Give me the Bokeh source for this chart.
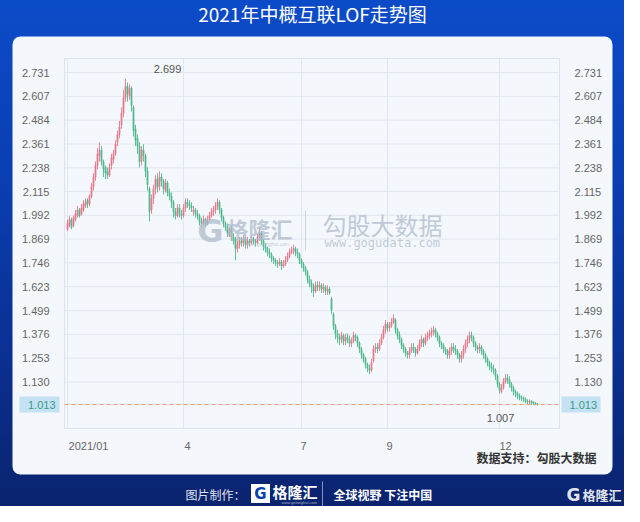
import numpy as np
from bokeh.plotting import figure
from bokeh.models import (Range1d, FixedTicker, LinearAxis, Label, ColumnDataSource,
                          PrintfTickFormatter, BoxAnnotation)
from bokeh.layouts import column
from bokeh.embed import file_html
from bokeh.resources import INLINE

CJK = "Noto Sans CJK SC"
NUM = "Liberation Sans"

title_text = "2021年中概互联LOF走势图"
source_note = "数据支持：勾股大数据"

# ---- daily candles (trading-day order, 2021) ----
open_ = [
    1.92, 1.94, 1.97, 1.94, 1.97, 1.99, 2.02, 2.00, 2.02, 2.04,
    2.07, 2.05, 2.09, 2.14, 2.19, 2.25, 2.30, 2.33, 2.27, 2.24,
    2.22, 2.20, 2.25, 2.28, 2.31, 2.37, 2.41, 2.46, 2.52, 2.60,
    2.66, 2.61, 2.65, 2.55, 2.44, 2.39, 2.35, 2.27, 2.33, 2.30,
    2.22, 2.13, 2.02, 2.08, 2.13, 2.18, 2.14, 2.19, 2.17, 2.12,
    2.16, 2.11, 2.09, 2.06, 2.01, 1.99, 2.03, 2.00, 1.99, 2.03,
    2.06, 2.05, 2.04, 2.01, 2.02, 2.00, 1.99, 1.96, 1.95, 1.97,
    1.95, 1.97, 1.99, 2.01, 2.02, 2.04, 2.06, 2.02, 1.98, 1.95,
    1.93, 1.90, 1.92, 1.88, 1.87, 1.82, 1.84, 1.86, 1.85, 1.87,
    1.84, 1.86, 1.85, 1.87, 1.86, 1.85, 1.88, 1.90, 1.86, 1.83,
    1.82, 1.80, 1.79, 1.77, 1.76, 1.75, 1.74, 1.75, 1.73, 1.74,
    1.76, 1.78, 1.80, 1.81, 1.82, 1.80, 1.79, 1.76, 1.74, 1.72,
    1.70, 1.66, 1.64, 1.62, 1.60, 1.63, 1.62, 1.63, 1.61, 1.62,
    1.60, 1.61, 1.56, 1.48, 1.42, 1.38, 1.36, 1.35, 1.37, 1.34,
    1.36, 1.35, 1.33, 1.34, 1.37, 1.36, 1.33, 1.30, 1.27, 1.25,
    1.22, 1.20, 1.19, 1.24, 1.30, 1.31, 1.30, 1.33, 1.36, 1.40,
    1.43, 1.41, 1.42, 1.44, 1.45, 1.40, 1.37, 1.35, 1.32, 1.30,
    1.28, 1.27, 1.29, 1.31, 1.30, 1.28, 1.30, 1.33, 1.35, 1.33,
    1.36, 1.37, 1.38, 1.39, 1.40, 1.38, 1.36, 1.33, 1.32, 1.30,
    1.29, 1.27, 1.29, 1.31, 1.30, 1.29, 1.27, 1.25, 1.27, 1.30,
    1.33, 1.35, 1.37, 1.36, 1.33, 1.31, 1.30, 1.31, 1.29, 1.27,
    1.25, 1.23, 1.21, 1.20, 1.19, 1.16, 1.12, 1.08, 1.10, 1.13,
    1.15, 1.14, 1.12, 1.10, 1.08, 1.07, 1.06, 1.05, 1.045, 1.04,
    1.03, 1.025, 1.03, 1.025, 1.02, 1.015,
]
close = [
    1.95, 1.97, 1.93, 1.98, 2.00, 2.02, 1.99, 2.03, 2.05, 2.06,
    2.05, 2.09, 2.14, 2.19, 2.25, 2.31, 2.33, 2.27, 2.23, 2.21,
    2.20, 2.24, 2.29, 2.31, 2.36, 2.41, 2.45, 2.52, 2.60, 2.66,
    2.62, 2.65, 2.56, 2.43, 2.38, 2.35, 2.27, 2.33, 2.30, 2.22,
    2.15, 2.01, 2.08, 2.13, 2.18, 2.14, 2.19, 2.17, 2.13, 2.16,
    2.11, 2.09, 2.06, 2.01, 1.99, 2.03, 2.00, 1.99, 2.03, 2.06,
    2.05, 2.04, 2.03, 2.02, 2.00, 1.99, 1.96, 1.95, 1.97, 1.95,
    1.97, 1.99, 2.01, 2.02, 2.04, 2.06, 2.02, 1.98, 1.95, 1.93,
    1.90, 1.92, 1.88, 1.86, 1.82, 1.84, 1.86, 1.85, 1.87, 1.84,
    1.86, 1.85, 1.87, 1.86, 1.85, 1.88, 1.90, 1.86, 1.83, 1.82,
    1.80, 1.79, 1.77, 1.76, 1.75, 1.74, 1.75, 1.73, 1.74, 1.76,
    1.78, 1.80, 1.81, 1.82, 1.80, 1.79, 1.76, 1.74, 1.72, 1.70,
    1.66, 1.64, 1.62, 1.60, 1.63, 1.62, 1.63, 1.61, 1.62, 1.60,
    1.61, 1.59, 1.50, 1.42, 1.38, 1.36, 1.35, 1.37, 1.34, 1.36,
    1.35, 1.33, 1.34, 1.37, 1.36, 1.33, 1.30, 1.27, 1.25, 1.22,
    1.20, 1.19, 1.23, 1.30, 1.31, 1.30, 1.33, 1.36, 1.40, 1.43,
    1.41, 1.42, 1.44, 1.46, 1.40, 1.37, 1.35, 1.32, 1.30, 1.28,
    1.27, 1.29, 1.31, 1.30, 1.28, 1.30, 1.33, 1.35, 1.33, 1.36,
    1.37, 1.38, 1.39, 1.40, 1.38, 1.36, 1.33, 1.32, 1.30, 1.29,
    1.27, 1.29, 1.31, 1.30, 1.29, 1.27, 1.25, 1.27, 1.30, 1.33,
    1.35, 1.37, 1.36, 1.33, 1.31, 1.30, 1.31, 1.29, 1.27, 1.25,
    1.23, 1.21, 1.20, 1.19, 1.16, 1.12, 1.09, 1.10, 1.13, 1.15,
    1.14, 1.12, 1.10, 1.08, 1.07, 1.06, 1.05, 1.045, 1.04, 1.03,
    1.025, 1.03, 1.02, 1.02, 1.015, 1.013,
]
high = [
    1.97, 1.99, 1.98, 1.99, 2.02, 2.04, 2.03, 2.05, 2.07, 2.08,
    2.08, 2.10, 2.16, 2.21, 2.27, 2.34, 2.37, 2.35, 2.28, 2.25,
    2.24, 2.26, 2.31, 2.33, 2.38, 2.43, 2.48, 2.55, 2.64, 2.699,
    2.68, 2.67, 2.66, 2.56, 2.46, 2.41, 2.37, 2.35, 2.36, 2.31,
    2.24, 2.14, 2.10, 2.15, 2.20, 2.21, 2.22, 2.21, 2.18, 2.18,
    2.17, 2.13, 2.11, 2.07, 2.03, 2.05, 2.05, 2.02, 2.05, 2.08,
    2.08, 2.07, 2.06, 2.04, 2.03, 2.02, 2.00, 1.98, 1.99, 1.98,
    1.99, 2.01, 2.03, 2.04, 2.06, 2.08, 2.07, 2.03, 1.99, 1.96,
    1.95, 1.93, 1.94, 1.90, 1.88, 1.86, 1.88, 1.88, 1.89, 1.88,
    1.88, 1.87, 1.89, 1.88, 1.87, 1.90, 1.93, 1.91, 1.87, 1.85,
    1.83, 1.82, 1.80, 1.78, 1.77, 1.76, 1.77, 1.76, 1.76, 1.78,
    1.80, 1.82, 1.83, 1.84, 1.83, 1.82, 1.80, 1.77, 1.75, 1.73,
    1.71, 1.68, 1.66, 1.64, 1.65, 1.65, 1.65, 1.64, 1.64, 1.63,
    1.63, 1.62, 1.57, 1.49, 1.43, 1.40, 1.38, 1.39, 1.38, 1.38,
    1.38, 1.37, 1.36, 1.39, 1.38, 1.37, 1.34, 1.31, 1.28, 1.26,
    1.23, 1.22, 1.25, 1.32, 1.33, 1.33, 1.35, 1.38, 1.42, 1.45,
    1.44, 1.44, 1.46, 1.48, 1.46, 1.41, 1.39, 1.36, 1.33, 1.31,
    1.29, 1.31, 1.33, 1.33, 1.31, 1.32, 1.35, 1.37, 1.36, 1.38,
    1.39, 1.40, 1.41, 1.42, 1.41, 1.39, 1.37, 1.34, 1.33, 1.31,
    1.30, 1.31, 1.33, 1.33, 1.32, 1.30, 1.28, 1.29, 1.32, 1.35,
    1.37, 1.39, 1.39, 1.37, 1.34, 1.32, 1.33, 1.32, 1.30, 1.28,
    1.26, 1.24, 1.23, 1.22, 1.20, 1.17, 1.13, 1.12, 1.15, 1.17,
    1.17, 1.16, 1.13, 1.11, 1.09, 1.08, 1.07, 1.06, 1.055, 1.05,
    1.04, 1.04, 1.035, 1.03, 1.025, 1.02,
]
low = [
    1.91, 1.93, 1.92, 1.93, 1.96, 1.98, 1.98, 1.99, 2.01, 2.03,
    2.03, 2.04, 2.08, 2.12, 2.17, 2.23, 2.27, 2.25, 2.19, 2.18,
    2.18, 2.19, 2.23, 2.26, 2.30, 2.35, 2.39, 2.44, 2.50, 2.58,
    2.58, 2.59, 2.53, 2.40, 2.35, 2.31, 2.24, 2.25, 2.27, 2.19,
    2.12, 1.96, 2.00, 2.05, 2.10, 2.11, 2.12, 2.14, 2.10, 2.11,
    2.09, 2.07, 2.03, 1.98, 1.97, 1.98, 1.98, 1.97, 1.98, 2.01,
    2.03, 2.02, 2.01, 1.99, 1.98, 1.97, 1.94, 1.93, 1.94, 1.93,
    1.94, 1.96, 1.98, 1.99, 2.00, 2.02, 2.00, 1.96, 1.93, 1.91,
    1.88, 1.88, 1.86, 1.84, 1.76, 1.80, 1.82, 1.83, 1.83, 1.82,
    1.82, 1.83, 1.84, 1.84, 1.83, 1.84, 1.86, 1.84, 1.81, 1.80,
    1.78, 1.77, 1.75, 1.74, 1.73, 1.72, 1.73, 1.71, 1.72, 1.73,
    1.75, 1.77, 1.79, 1.79, 1.78, 1.77, 1.74, 1.72, 1.70, 1.68,
    1.64, 1.62, 1.59, 1.57, 1.59, 1.60, 1.60, 1.59, 1.59, 1.58,
    1.58, 1.58, 1.48, 1.40, 1.35, 1.33, 1.32, 1.33, 1.32, 1.32,
    1.33, 1.31, 1.31, 1.33, 1.34, 1.31, 1.28, 1.25, 1.23, 1.20,
    1.18, 1.17, 1.18, 1.23, 1.28, 1.28, 1.29, 1.32, 1.35, 1.38,
    1.39, 1.39, 1.41, 1.43, 1.38, 1.35, 1.33, 1.30, 1.28, 1.26,
    1.25, 1.25, 1.28, 1.28, 1.26, 1.27, 1.29, 1.31, 1.31, 1.32,
    1.34, 1.35, 1.36, 1.37, 1.36, 1.34, 1.31, 1.30, 1.28, 1.27,
    1.25, 1.25, 1.27, 1.28, 1.27, 1.25, 1.23, 1.23, 1.25, 1.28,
    1.31, 1.33, 1.34, 1.31, 1.29, 1.28, 1.28, 1.27, 1.25, 1.23,
    1.21, 1.19, 1.18, 1.17, 1.14, 1.10, 1.07, 1.07, 1.09, 1.12,
    1.12, 1.10, 1.08, 1.06, 1.05, 1.04, 1.035, 1.03, 1.025, 1.02,
    1.01, 1.015, 1.01, 1.01, 1.008, 1.007,
]

y_ticks = [1.013, 1.130, 1.253, 1.376, 1.499, 1.623, 1.746, 1.869,
           1.992, 2.115, 2.238, 2.361, 2.484, 2.607, 2.731]
month_start_idx = [0, 58, 117, 160, 216]
month_labels = ["2021/01", "4", "7", "9", "12"]
month_label_pos = [10.5, 60.0, 118.0, 161.0, 219.0]

RED = "#e5798a"
GREEN = "#4fb88c"
PANEL = "#f4f7fb"
GRID = "#e2e7ee"
WM = "#aebbcc"

# ---- geometry, in reference-page pixels (page = canvas + 8 px margin) ----
FR_L, FR_R, FR_T, FR_B = 72, 567, 66, 436
PX_PER_IDX = 2.0
X0_PX = 75.0
k = (y_ticks[-1] - y_ticks[0]) / (412 - 80)


def px_x(rx):
    return (rx - X0_PX) / PX_PER_IDX


def px_y(ry):
    return y_ticks[0] + (412 - ry) * k


o = np.array(open_)
c = np.array(close)
h = np.array(high)
l = np.array(low)
n = len(c)
idx = np.arange(n)
colors = np.where(c >= o, RED, GREEN)
src = ColumnDataSource(dict(x=idx, top=np.maximum(o, c), bottom=np.minimum(o, c),
                            high=h, low=l, color=colors))
last_close = float(c[-1])

W, H = 624, 506
p = figure(width=W, height=H, title=None,
           x_range=Range1d(px_x(8), px_x(8 + W)),
           y_range=Range1d(px_y(8 + H), px_y(8)),
           toolbar_location=None, output_backend="svg",
           x_axis_type=None, y_axis_type=None,
           min_border_left=0, min_border_right=0, min_border_top=0, min_border_bottom=0,
           background_fill_color=None, border_fill_color=None, outline_line_color=None)

# white panel with rounded corners
p.add_layout(BoxAnnotation(left=px_x(20), right=px_x(620), top=px_y(44), bottom=px_y(482),
                           fill_color=PANEL, fill_alpha=1.0, line_color=None,
                           border_radius=8, level="image"))

# grid lines, limited to the chart area
x_l, x_r = px_x(FR_L), px_x(FR_R)
y_b, y_t = px_y(FR_B), px_y(FR_T)
p.segment(x0=[x_l] * len(y_ticks), y0=y_ticks, x1=[x_r] * len(y_ticks), y1=y_ticks,
          line_color=GRID, line_width=1, level="underlay")
p.segment(x0=month_start_idx, y0=[y_b] * len(month_start_idx), x1=month_start_idx,
          y1=[y_t] * len(month_start_idx), line_color=GRID, line_width=1, level="underlay")
p.quad(left=x_l, right=x_r, top=y_t, bottom=y_b,
       fill_color=None, line_color="#dde3ea", line_width=1, level="underlay")

# axes (fixed inside the canvas)
axis_ticks = [t for t in y_ticks if abs(t - last_close) > 1e-9]
ax_l = LinearAxis(fixed_location=x_l, ticker=FixedTicker(ticks=axis_ticks),
                  formatter=PrintfTickFormatter(format="%.3f"), major_label_standoff=9)
ax_r = LinearAxis(fixed_location=x_r, ticker=FixedTicker(ticks=axis_ticks),
                  formatter=PrintfTickFormatter(format="%.3f"), major_label_standoff=9)
ax_b = LinearAxis(fixed_location=y_b, ticker=FixedTicker(ticks=month_label_pos),
                  major_label_overrides={pos: lab for pos, lab in zip(month_label_pos, month_labels)},
                  major_label_standoff=5)
for ax, side in ((ax_l, "left"), (ax_r, "right"), (ax_b, "below")):
    ax.axis_line_color = None
    ax.major_tick_line_color = None
    ax.minor_tick_line_color = None
    ax.major_label_text_font = NUM
    ax.major_label_text_font_size = "11px"
    ax.major_label_text_color = "#666666"
    p.add_layout(ax, side)

# watermark
p.add_layout(Label(x=px_x(218), y=px_y(238), text="G", text_align="center", text_baseline="middle",
                   text_font="DejaVu Sans", text_font_style="bold", text_font_size="32px",
                   text_color=WM, text_alpha=0.75))
p.add_layout(Label(x=px_x(234), y=px_y(235), text="格隆汇", text_baseline="middle",
                   text_font=CJK, text_font_style="bold", text_font_size="22px",
                   text_color=WM, text_alpha=0.75))
p.add_layout(Label(x=px_x(252), y=px_y(251), text="www.gelonghui.com", text_baseline="middle",
                   text_font=NUM, text_font_size="5px", text_color=WM, text_alpha=0.75))
p.segment(x0=px_x(313), y0=px_y(218), x1=px_x(313), y1=px_y(258), line_color=WM, line_alpha=0.6, line_width=1)
p.add_layout(Label(x=px_x(330), y=px_y(232), text="勾股大数据", text_baseline="middle",
                   text_font=CJK, text_font_size="24px", text_color=WM, text_alpha=0.75))
p.add_layout(Label(x=px_x(332), y=px_y(250), text="www.gogudata.com", text_baseline="middle",
                   text_font="DejaVu Sans Mono", text_font_size="12px", text_color=WM, text_alpha=0.75))

# candles
p.segment(x0="x", y0="low", x1="x", y1="high", line_color="color", line_width=0.9, source=src)
p.vbar(x="x", width=0.6, top="top", bottom="bottom", fill_color="color", line_color="color",
       line_width=0.5, source=src)

# last close: dashed line + highlighted axis labels
p.segment(x0=x_l, y0=last_close, x1=x_r, y1=last_close,
          line_color="#e9a07c", line_dash="4 3", line_width=1.2)
for cx, wpx in ((47, 40), (588.5, 39)):
    p.rect(x=px_x(cx), y=last_close, width=wpx, height=16, width_units="screen", height_units="screen",
           fill_color="#c4e2f3", line_color=None)
hl = dict(text=f"{last_close:.3f}", y=last_close, text_baseline="middle", text_font=NUM,
          text_font_size="11px", text_color="#3a9a88")
p.add_layout(Label(x=px_x(63), text_align="right", **hl))
p.add_layout(Label(x=px_x(577), text_align="left", **hl))

# max / min annotations
imax = int(np.argmax(h))
imin = int(np.argmin(l))
p.add_layout(Label(x=imax + 21, y=px_y(76), text=f"{h[imax]:.3f}", text_align="center",
                   text_baseline="middle", text_font=NUM, text_font_size="11px", text_color="#555555"))
p.add_layout(Label(x=imin - 18.5, y=px_y(425), text=f"{l[imin]:.3f}", text_align="center",
                   text_baseline="middle", text_font=NUM, text_font_size="11px", text_color="#555555"))

# source note
p.add_layout(Label(x=px_x(604), y=px_y(465), text=source_note, text_align="right",
                   text_baseline="middle", text_font=CJK, text_font_style="bold",
                   text_font_size="12px", text_color="#333333"))

# title
p.add_layout(Label(x=px_x(320), y=px_y(21), text=title_text, text_align="center", text_baseline="middle",
                   text_font=CJK, text_font_size="19px", text_color="white"))

# footer
p.add_layout(Label(x=px_x(193), y=px_y(502), text="图片制作：", text_baseline="middle", text_font=CJK,
                   text_font_size="12px", text_color="white", text_alpha=0.9))
p.rect(x=px_x(268), y=px_y(501), width=19, height=19, width_units="screen", height_units="screen",
       fill_color="white", line_color=None)
p.add_layout(Label(x=px_x(268), y=px_y(501), text="G", text_align="center", text_baseline="middle",
                   text_font="DejaVu Sans", text_font_style="bold", text_font_size="15px",
                   text_color="#0b3fae"))
p.add_layout(Label(x=px_x(280), y=px_y(499), text="格隆汇", text_baseline="middle", text_font=CJK,
                   text_font_style="bold", text_font_size="15px", text_color="white"))
p.add_layout(Label(x=px_x(289), y=px_y(510), text="www.gelonghui.com", text_baseline="middle",
                   text_font=NUM, text_font_size="4px", text_color="white", text_alpha=0.6))
p.segment(x0=px_x(330), y0=px_y(489), x1=px_x(330), y1=px_y(514), line_color="white",
          line_alpha=0.5, line_width=1)
p.add_layout(Label(x=px_x(341), y=px_y(502), text="全球视野 下注中国", text_baseline="middle",
                   text_font=CJK, text_font_style="bold", text_font_size="12px", text_color="white"))
p.add_layout(Label(x=px_x(581), y=px_y(502), text="G", text_align="center", text_baseline="middle",
                   text_font="DejaVu Sans", text_font_style="bold", text_font_size="17px",
                   text_color="white", text_alpha=0.9))
p.add_layout(Label(x=px_x(590), y=px_y(502), text="格隆汇", text_baseline="middle", text_font=CJK,
                   text_font_style="bold", text_font_size="13px", text_color="white",
                   text_alpha=0.9))

layout = column(p, spacing=0,
                styles={"background": "linear-gradient(180deg, #0c4bc8 0%, #0a3eb2 35%, #0a3092 70%, #0a236e 100%)"})

open("out.html", "w").write(file_html(layout, INLINE))
